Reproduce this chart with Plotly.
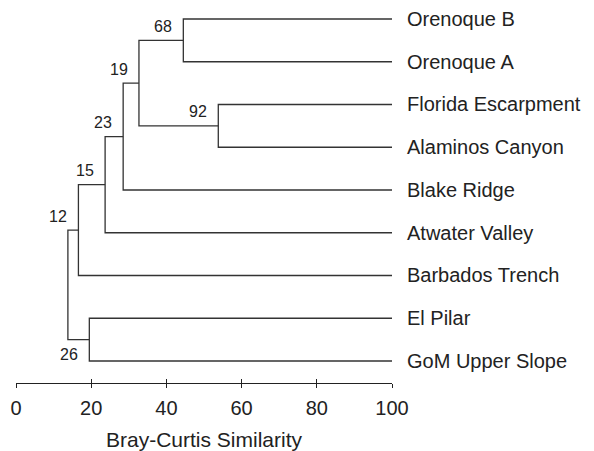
import plotly.graph_objects as go

# Leaves, top to bottom
leaves = ["Orenoque B", "Orenoque A", "Florida Escarpment", "Alaminos Canyon",
          "Blake Ridge", "Atwater Valley", "Barbados Trench", "El Pilar", "GoM Upper Slope"]

# Merges: children refer to leaf names or to earlier merge ids ("n0", ...)
merge_left = ["Orenoque B", "Florida Escarpment", "n0", "n2", "n3", "n4", "El Pilar", "n5"]
merge_right = ["Orenoque A", "Alaminos Canyon", "n1", "Blake Ridge", "Atwater Valley",
               "Barbados Trench", "GoM Upper Slope", "n6"]
merge_similarity = [44.5, 53.8, 32.7, 28.5, 23.7, 16.6, 19.5, 13.8]
merge_support = [68, 92, 19, 23, 15, 12, 26, None]
support_below = [False, False, False, False, False, False, True, False]

leaf_similarity = 100
x_ticks = [0, 20, 40, 60, 80, 100]

# Positions through the axes
n = len(leaves)
pos = {name: (leaf_similarity, float(n - 1 - i)) for i, name in enumerate(leaves)}

xs, ys = [], []
for k, (a, b, s) in enumerate(zip(merge_left, merge_right, merge_similarity)):
    xa, ya = pos[a]
    xb, yb = pos[b]
    xs += [xa, s, s, xb, None]
    ys += [ya, ya, yb, yb, None]
    pos["n%d" % k] = (s, (ya + yb) / 2)

line_color = "#333333"
fig = go.Figure()
fig.add_trace(go.Scatter(x=xs, y=ys, mode="lines",
                         line=dict(color=line_color, width=1.3),
                         hoverinfo="skip", showlegend=False))

font_family = "Liberation Sans, Arial, sans-serif"
annotations = []
for name in leaves:
    x, y = pos[name]
    annotations.append(dict(x=x, y=y, text=name, showarrow=False, xanchor="left",
                            yanchor="middle", xshift=13,
                            font=dict(size=20, color="#222", family=font_family)))
for k, sup in enumerate(merge_support):
    if sup is None:
        continue
    x, y = pos["n%d" % k]
    annotations.append(dict(x=x, y=y, text=str(sup), showarrow=False, xanchor="right",
                            yanchor="middle", xshift=-9,
                            yshift=-15 if support_below[k] else 14,
                            font=dict(size=16, color="#222", family=font_family)))

fig.update_layout(
    width=594, height=451,
    margin=dict(l=8, r=210, t=2, b=76),
    paper_bgcolor="white", plot_bgcolor="white",
    annotations=annotations,
    xaxis=dict(range=[0, 100], tickvals=x_ticks, ticks="outside", ticklen=4,
               tickcolor="#222", tickwidth=1.2, showline=True, linecolor="#222",
               linewidth=1.2, showgrid=False, zeroline=False, ticklabelstandoff=3,
               tickfont=dict(size=20, color="#222", family=font_family),
               title=dict(text="Bray-Curtis Similarity", standoff=14,
                          font=dict(size=21, color="#222", family=font_family))),
    xaxis2=dict(range=[0, 100], tickvals=x_ticks, ticks="inside", ticklen=4,
                tickcolor="#222", tickwidth=1.2, overlaying="x", side="bottom",
                showticklabels=False, showgrid=False, zeroline=False, anchor="y"),
    yaxis=dict(range=[-0.515, 8.21], visible=False, showgrid=False, zeroline=False),
)
fig.add_trace(go.Scatter(x=[None], y=[None], xaxis="x2", showlegend=False, hoverinfo="skip"))

fig.write_html("out.html")
